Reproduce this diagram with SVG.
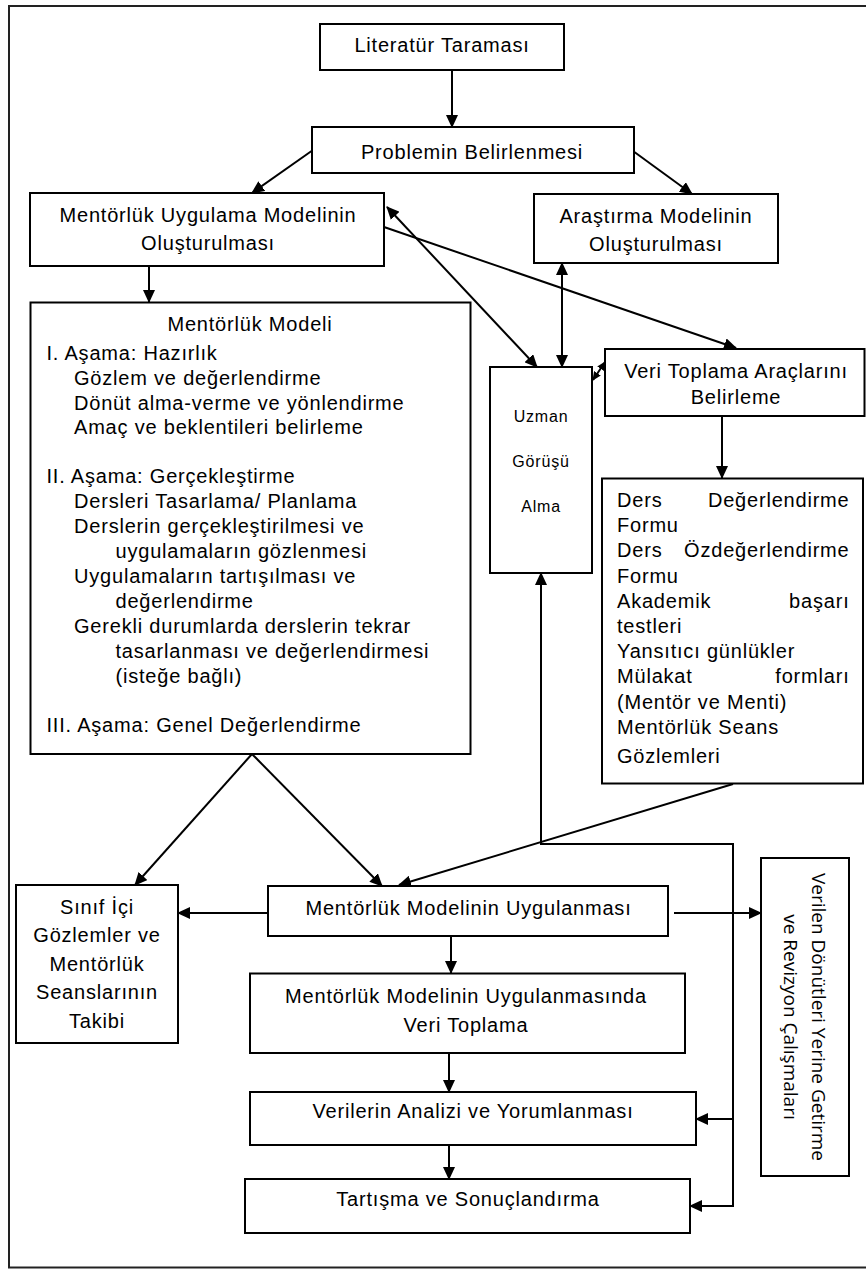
<svg xmlns="http://www.w3.org/2000/svg" width="866" height="1269" viewBox="0 0 866 1269">
<style>
.bx{fill:#fff;stroke:#000;stroke-width:2}
.t{font-family:"Liberation Sans",Arial,sans-serif;font-size:20px;letter-spacing:0.8px;fill:#000}
.c{text-anchor:middle}
.e{text-anchor:end}
.s{font-size:16px}
.v{font-family:"Open Sans","Noto Sans",sans-serif;font-size:19px;fill:#000;text-anchor:middle}
.ln{fill:none;stroke:#000;stroke-width:2}
</style>
<defs>
<marker id="ah" viewBox="0 0 13 12" refX="12" refY="6" markerWidth="13" markerHeight="12" markerUnits="userSpaceOnUse" orient="auto-start-reverse"><path d="M0,0 L13,6 L0,12 z" fill="#000"/></marker>
<marker id="ahs" viewBox="0 0 9 8" refX="8" refY="4" markerWidth="9" markerHeight="8" markerUnits="userSpaceOnUse" orient="auto-start-reverse"><path d="M0,0 L9,4 L0,8 z" fill="#000"/></marker>
</defs>
<rect width="866" height="1269" fill="#fff"/>
<rect x="9" y="6" width="870" height="1261.5" fill="none" stroke="#222" stroke-width="2"/>

<g id="connectors">
<line class="ln" x1="452" y1="70" x2="452" y2="127" marker-end="url(#ah)"/>
<line class="ln" x1="313" y1="150" x2="252" y2="193" marker-end="url(#ah)"/>
<line class="ln" x1="633" y1="151" x2="692" y2="194" marker-end="url(#ah)"/>
<line class="ln" x1="149" y1="266" x2="149" y2="302" marker-end="url(#ah)"/>
<line class="ln" x1="387" y1="207" x2="537" y2="367" marker-start="url(#ah)" marker-end="url(#ah)"/>
<line class="ln" x1="384" y1="227" x2="736" y2="348" marker-end="url(#ah)"/>
<line class="ln" x1="562" y1="263" x2="562" y2="367" marker-start="url(#ah)" marker-end="url(#ah)"/>
<line class="ln" x1="593" y1="380" x2="605" y2="362" marker-start="url(#ahs)" marker-end="url(#ahs)"/>
<line class="ln" x1="722" y1="416" x2="722" y2="478" marker-end="url(#ah)"/>
<line class="ln" x1="252" y1="754" x2="135" y2="885" marker-end="url(#ah)"/>
<line class="ln" x1="252" y1="754" x2="382" y2="886" marker-end="url(#ah)"/>
<line class="ln" x1="733" y1="784" x2="399" y2="885" marker-end="url(#ah)"/>
<line class="ln" x1="268" y1="913" x2="178" y2="913" marker-end="url(#ah)"/>
<line class="ln" x1="674" y1="913" x2="761" y2="913" stroke-width="1.6" marker-end="url(#ah)"/>
<line class="ln" x1="451" y1="936" x2="451" y2="973" marker-end="url(#ah)"/>
<line class="ln" x1="449" y1="1053" x2="449" y2="1092" marker-end="url(#ah)"/>
<line class="ln" x1="449" y1="1145" x2="449" y2="1179" marker-end="url(#ah)"/>
<polyline class="ln" stroke-width="2.5" points="733,1206 733,844 541,844 541,573" marker-end="url(#ah)"/>
<line class="ln" stroke-width="2.5" x1="733" y1="1119" x2="696" y2="1119" marker-end="url(#ah)"/>
<line class="ln" stroke-width="2.5" x1="734" y1="1206" x2="690" y2="1206" marker-end="url(#ah)"/>
</g>

<g id="n-literatur">
<rect class="bx" x="320" y="24" width="244" height="46"/>
<text class="t c" x="442" y="52">Literatür Taraması</text>
</g>
<g id="n-problem">
<rect class="bx" x="312" y="127" width="322" height="46"/>
<text class="t c" x="472" y="158.5">Problemin Belirlenmesi</text>
</g>
<g id="n-mentorluk-uygulama">
<rect class="bx" x="30" y="193" width="354" height="73"/>
<text class="t c" x="208" y="221.5">Mentörlük Uygulama Modelinin</text>
<text class="t c" x="208" y="249.5">Oluşturulması</text>
</g>
<g id="n-arastirma">
<rect class="bx" x="534" y="194" width="244" height="69"/>
<text class="t c" x="656" y="222.5">Araştırma Modelinin</text>
<text class="t c" x="656" y="250.5">Oluşturulması</text>
</g>
<g id="n-model">
<rect class="bx" x="30.5" y="302.5" width="440" height="451.5"/>
<text class="t c" x="250" y="331">Mentörlük Modeli</text>
<text class="t" x="46.5" y="360">I. Aşama: Hazırlık</text>
<text class="t" x="74" y="385">Gözlem ve değerlendirme</text>
<text class="t" x="74" y="409.5">Dönüt alma-verme ve yönlendirme</text>
<text class="t" x="74" y="434">Amaç ve beklentileri belirleme</text>
<text class="t" x="46.5" y="483">II. Aşama: Gerçekleştirme</text>
<text class="t" x="74" y="508">Dersleri Tasarlama/ Planlama</text>
<text class="t" x="74" y="533">Derslerin gerçekleştirilmesi ve</text>
<text class="t" x="115.5" y="558">uygulamaların gözlenmesi</text>
<text class="t" x="74" y="583">Uygulamaların tartışılması ve</text>
<text class="t" x="115.5" y="607.5">değerlendirme</text>
<text class="t" x="74" y="632.5">Gerekli durumlarda derslerin tekrar</text>
<text class="t" x="115.5" y="657.5">tasarlanması ve değerlendirmesi</text>
<text class="t" x="115.5" y="682.5">(isteğe bağlı)</text>
<text class="t" x="46.5" y="731.5">III. Aşama: Genel Değerlendirme</text>
</g>
<g id="n-uzman">
<rect class="bx" x="490" y="367" width="102" height="206"/>
<text class="t s c" x="541" y="421.5">Uzman</text>
<text class="t s c" x="541" y="467">Görüşü</text>
<text class="t s c" x="541" y="512">Alma</text>
</g>
<g id="n-veri-araclari">
<rect class="bx" x="605" y="349" width="259.5" height="67"/>
<text class="t c" x="736" y="378">Veri Toplama Araçlarını</text>
<text class="t c" x="736" y="404">Belirleme</text>
</g>
<g id="n-araclar-listesi">
<rect class="bx" x="602" y="478.5" width="261" height="305"/>
<text class="t" x="617" y="507">Ders</text><text class="t e" x="849.5" y="507">Değerlendirme</text>
<text class="t" x="617" y="532.2">Formu</text>
<text class="t" x="617" y="557.4">Ders</text><text class="t e" x="849.5" y="557.4">Özdeğerlendirme</text>
<text class="t" x="617" y="582.6">Formu</text>
<text class="t" x="617" y="607.8">Akademik</text><text class="t e" x="849.5" y="607.8">başarı</text>
<text class="t" x="617" y="633">testleri</text>
<text class="t" x="617" y="658.2">Yansıtıcı günlükler</text>
<text class="t" x="617" y="683.4">Mülakat</text><text class="t e" x="849.5" y="683.4">formları</text>
<text class="t" x="617" y="708.6">(Mentör ve Menti)</text>
<text class="t" x="617" y="733.8">Mentörlük Seans</text>
<text class="t" x="617" y="762.5">Gözlemleri</text>
</g>
<g id="n-sinif">
<rect class="bx" x="16" y="885" width="162" height="158"/>
<text class="t c" x="97" y="913.5">Sınıf İçi</text>
<text class="t c" x="97" y="942">Gözlemler ve</text>
<text class="t c" x="97" y="970.5">Mentörlük</text>
<text class="t c" x="97" y="999">Seanslarının</text>
<text class="t c" x="97" y="1027.5">Takibi</text>
</g>
<g id="n-uygulanmasi">
<rect class="bx" x="268" y="886" width="400" height="50"/>
<text class="t c" x="468.5" y="914.5">Mentörlük Modelinin Uygulanması</text>
</g>
<g id="n-verilen">
<rect class="bx" x="761" y="858" width="88" height="318"/>
<text class="v" transform="translate(812,1017) rotate(90)">Verilen Dönütleri Yerine Getirme</text>
<text class="v" transform="translate(784,1017) rotate(90)">ve Revizyon Çalışmaları</text>
</g>
<g id="n-veri-toplama">
<rect class="bx" x="250" y="973.5" width="435" height="79.5"/>
<text class="t c" x="466" y="1002.5">Mentörlük Modelinin Uygulanmasında</text>
<text class="t c" x="466" y="1031.5">Veri Toplama</text>
</g>
<g id="n-analiz">
<rect class="bx" x="250" y="1092" width="446" height="53"/>
<text class="t c" x="473" y="1118">Verilerin Analizi ve Yorumlanması</text>
</g>
<g id="n-tartisma">
<rect class="bx" x="245" y="1179" width="445" height="54"/>
<text class="t c" x="468" y="1206">Tartışma ve Sonuçlandırma</text>
</g>
</svg>
